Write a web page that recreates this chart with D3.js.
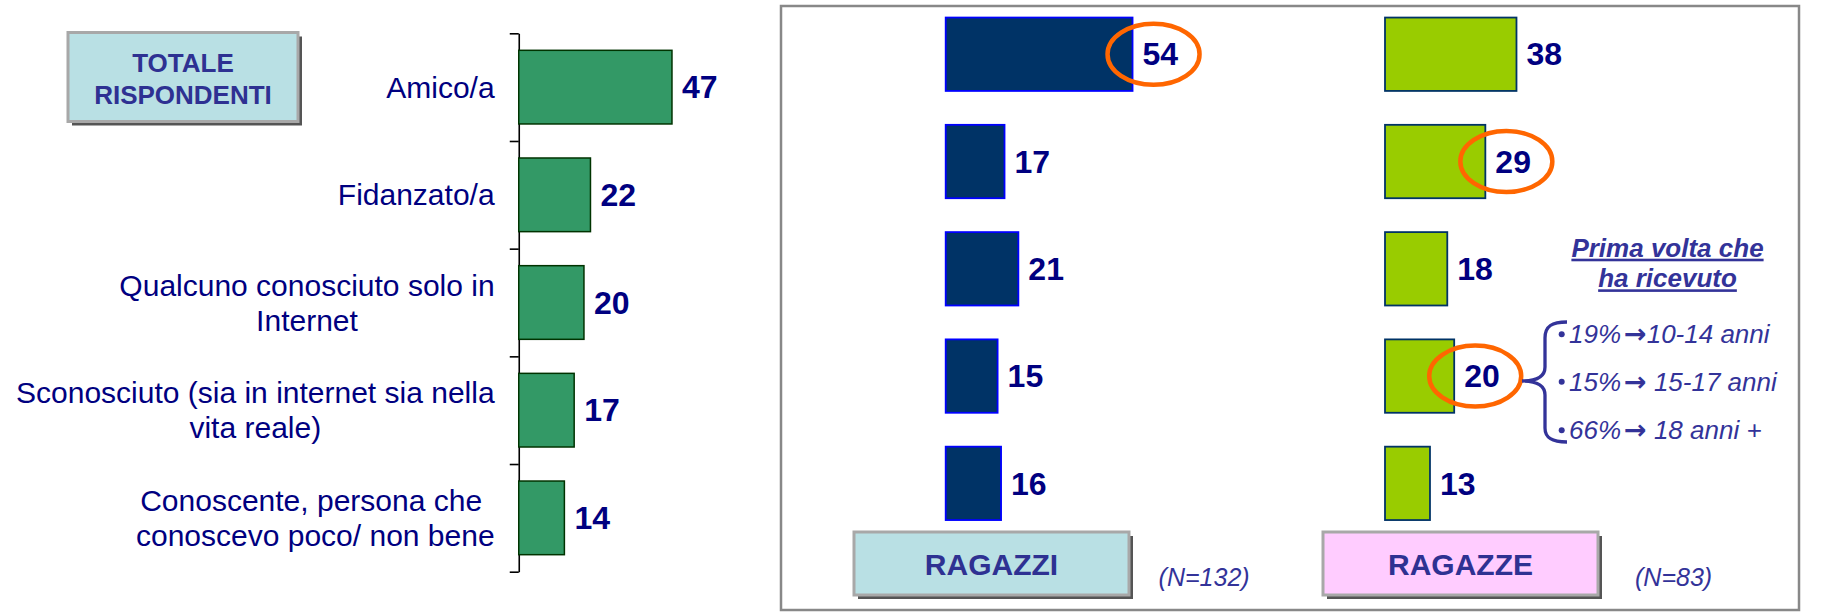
<!DOCTYPE html>
<html>
<head>
<meta charset="utf-8">
<script src="https://cdn.jsdelivr.net/npm/d3@7"></script>
<style>
	body { margin: 0; background: #fff; }
	svg { display: block; font-family: Arial, "Liberation Sans", sans-serif; }
</style>
</head>
<body>
<svg id="chart" width="1826" height="613"></svg>
<script>
// Data
var categories = ["Amico/a", "Fidanzato/a", "Qualcuno conosciuto solo in Internet",
	"Sconosciuto (sia in internet sia nella vita reale)", "Conoscente, persona che conoscevo poco/ non bene"];
var categoryLines = [["Amico/a"], ["Fidanzato/a"], ["Qualcuno conosciuto solo in", "Internet"],
	["Sconosciuto (sia in internet sia nella", "vita reale)"], ["Conoscente, persona che ", "conoscevo poco/ non bene"]];
var totaleValues = [47, 22, 20, 17, 14];
var ragazziValues = [54, 17, 21, 15, 16];
var ragazzeValues = [38, 29, 18, 20, 13];
var ragazziCircled = [0];
var ragazzeCircled = [1, 3];
var groupLabels = ["RAGAZZI", "RAGAZZE"];
var sampleLabels = ["(N=132)", "(N=83)"];
var totaleLabel = ["TOTALE", "RISPONDENTI"];
var noteTitle = ["Prima volta che", "ha ricevuto"];
// each note line: share, arrow, age band
var noteShares = ["19%", "15%", "66%"];
var noteAges = ["10-14 anni", " 15-17 anni", " 18 anni +"];

;(function(d3) {
	"use strict";

	var svg = d3.select("#chart");
	var navy = "#000080", indigo = "#2e3192", noteColor = "#333399", orange = "#ff6600";

	// Boxed label with a drop shadow, like the slide's text frames
	function labelBox(x, y, w, h, fill, lines, size, baselines) {
		var g = svg.append("g");
		g.append("rect").attr("x", x + 4).attr("y", y + 4).attr("width", w).attr("height", h).style("fill", "#555");
		g.append("rect").attr("x", x).attr("y", y).attr("width", w).attr("height", h)
			.style("fill", fill).style("stroke", "#a8a8a8").style("stroke-width", 3);
		g.selectAll("text").data(lines).enter().append("text")
			.attr("x", x + w / 2).attr("y", function(d, i) { return baselines[i]; })
			.attr("text-anchor", "middle").style("font-size", size + "px").style("font-weight", "bold")
			.style("fill", indigo).text(function(d) { return d; });
	}

	function valueLabels(g, values, x, y, size) {
		g.selectAll(".value").data(values).enter().append("text")
			.attr("class", "value")
			.attr("x", function(d) { return x(d) + 10; })
			.attr("y", function(d, i) { return y(categories[i]) + y.bandwidth() / 2; })
			.attr("dy", "0.35em")
			.style("font-size", size + "px").style("font-weight", "bold").style("fill", navy)
			.text(function(d) { return d; });
	}

	// ---- Left: totale rispondenti ----
	var axisX = 518.75;
	var yLeft = d3.scaleBand().domain(categories).range([33.3, 571.7]).paddingInner(0.316).paddingOuter(0.158);
	var xLeft = d3.scaleLinear().domain([0, 100]).range([axisX, axisX + 326]);

	labelBox(68, 32.5, 230, 89, "#b9e0e4", totaleLabel, 26, [71.7, 104]);

	var tickScale = d3.scaleLinear().domain([0, categories.length]).range(yLeft.range());
	svg.append("g").attr("transform", "translate(" + axisX + ",0)")
		.call(d3.axisLeft(tickScale).tickValues(d3.range(categories.length + 1)).tickSize(9).tickSizeOuter(0).tickFormat(""))
		.call(function(g) { g.selectAll("path, line").style("stroke", "#000").style("stroke-width", 1.6); });

	var left = svg.append("g");
	left.selectAll("rect").data(totaleValues).enter().append("rect")
		.attr("x", xLeft(0))
		.attr("y", function(d, i) { return yLeft(categories[i]); })
		.attr("width", function(d) { return xLeft(d) - xLeft(0); })
		.attr("height", yLeft.bandwidth())
		.style("fill", "#339966").style("stroke", "#003300").style("stroke-width", 1.5);
	valueLabels(left, totaleValues, xLeft, yLeft, 32);

	// Category labels: lines centred on each other, block right-aligned to the axis
	var lineHeight = 35;
	categoryLines.forEach(function(lines, i) {
		var cy = yLeft(categories[i]) + yLeft.bandwidth() / 2;
		var t = left.append("g");
		var texts = t.selectAll("text").data(lines).enter().append("text")
			.attr("y", function(d, j) { return cy + (j - (lines.length - 1) / 2) * lineHeight; })
			.attr("dy", "0.35em")
			.attr("text-anchor", "middle")
			.style("white-space", "pre")
			.style("font-size", "30px").style("fill", navy)
			.text(function(d) { return d; });
		var maxW = d3.max(texts.nodes(), function(n) { return n.getComputedTextLength(); });
		texts.attr("x", 494.6 - maxW / 2);
	});

	// ---- Right: ragazzi / ragazze ----
	svg.append("rect").attr("x", 781).attr("y", 6).attr("width", 1018).attr("height", 604)
		.style("fill", "none").style("stroke", "#888").style("stroke-width", 2.5);

	var yRight = d3.scaleBand().domain(categories).range([0.6, 537]).paddingInner(0.316).paddingOuter(0.158);
	var xBoys = d3.scaleLinear().domain([0, 100]).range([945.7, 945.7 + 346]);
	var xGirls = d3.scaleLinear().domain([0, 100]).range([1385, 1385 + 346]);

	function drawGroup(values, x, fill, stroke, circled) {
		var g = svg.append("g");
		g.selectAll("rect").data(values).enter().append("rect")
			.attr("x", x(0))
			.attr("y", function(d, i) { return yRight(categories[i]); })
			.attr("width", function(d) { return x(d) - x(0); })
			.attr("height", yRight.bandwidth())
			.style("fill", fill).style("stroke", stroke).style("stroke-width", 1.8);
		g.selectAll("ellipse").data(circled).enter().append("ellipse")
			.attr("cx", function(i) { return x(values[i]) + 21; })
			.attr("cy", function(i) { return yRight(categories[i]) + yRight.bandwidth() / 2; })
			.attr("rx", 46).attr("ry", 30.5)
			.style("fill", "none").style("stroke", orange).style("stroke-width", 4.5);
		valueLabels(g, values, x, yRight, 32);
	}
	drawGroup(ragazziValues, xBoys, "#003366", "#0000ff", ragazziCircled);
	drawGroup(ragazzeValues, xGirls, "#99cc00", "#003366", ragazzeCircled);

	labelBox(854, 532, 275, 63, "#b9e0e4", [groupLabels[0]], 30, [575.3]);
	labelBox(1323, 532, 275, 63, "#ffccff", [groupLabels[1]], 30, [575.3]);

	svg.selectAll(".sample").data(sampleLabels).enter().append("text")
		.attr("class", "sample")
		.attr("x", function(d, i) { return [1158.6, 1635][i]; })
		.attr("y", 586)
		.style("font-size", "25px").style("font-style", "italic").style("fill", noteColor)
		.text(function(d) { return d; });

	// ---- Note on the age of first time ----
	var note = svg.append("g").style("fill", noteColor);
	note.selectAll(".title").data(noteTitle).enter().append("text")
		.attr("class", "title")
		.attr("x", 1667.5).attr("y", function(d, i) { return 256.7 + i * 30.6; })
		.attr("text-anchor", "middle")
		.style("font-size", "26px").style("font-weight", "bold").style("font-style", "italic")
		.style("text-decoration", "underline")
		.text(function(d) { return d; });

	var noteBase = [343.3, 390.7, 439.3];
	note.selectAll("circle").data(noteShares).enter().append("circle")
		.attr("cx", 1561.7).attr("cy", function(d, i) { return noteBase[i] - 9; }).attr("r", 3);
	var lines = note.selectAll(".line").data(noteShares).enter().append("text")
		.attr("class", "line")
		.attr("x", 1569).attr("y", function(d, i) { return noteBase[i]; })
		.style("font-size", "26px").style("font-style", "italic")
		.style("white-space", "pre");
	lines.append("tspan").text(function(d) { return d; });
	// the slide used a Wingdings arrow: upright and heavier than the text
	lines.append("tspan")
		.attr("dx", 3)
		.style("font-family", "'DejaVu Sans'").style("font-style", "normal").style("font-weight", "bold")
		.style("font-size", "27px")
		.text("\u2192");
	lines.append("tspan").text(function(d, i) { return noteAges[i]; });

	svg.append("path")
		.attr("d", "M1567,322 C1552,322 1545,326 1545,338 L1545,367 C1545,376 1538,381 1522,381 " +
			"C1538,381 1545,386 1545,395 L1545,428 C1545,438 1552,442 1567,442")
		.style("fill", "none").style("stroke", noteColor).style("stroke-width", 3.3);
})(d3);
</script>
</body>
</html>
